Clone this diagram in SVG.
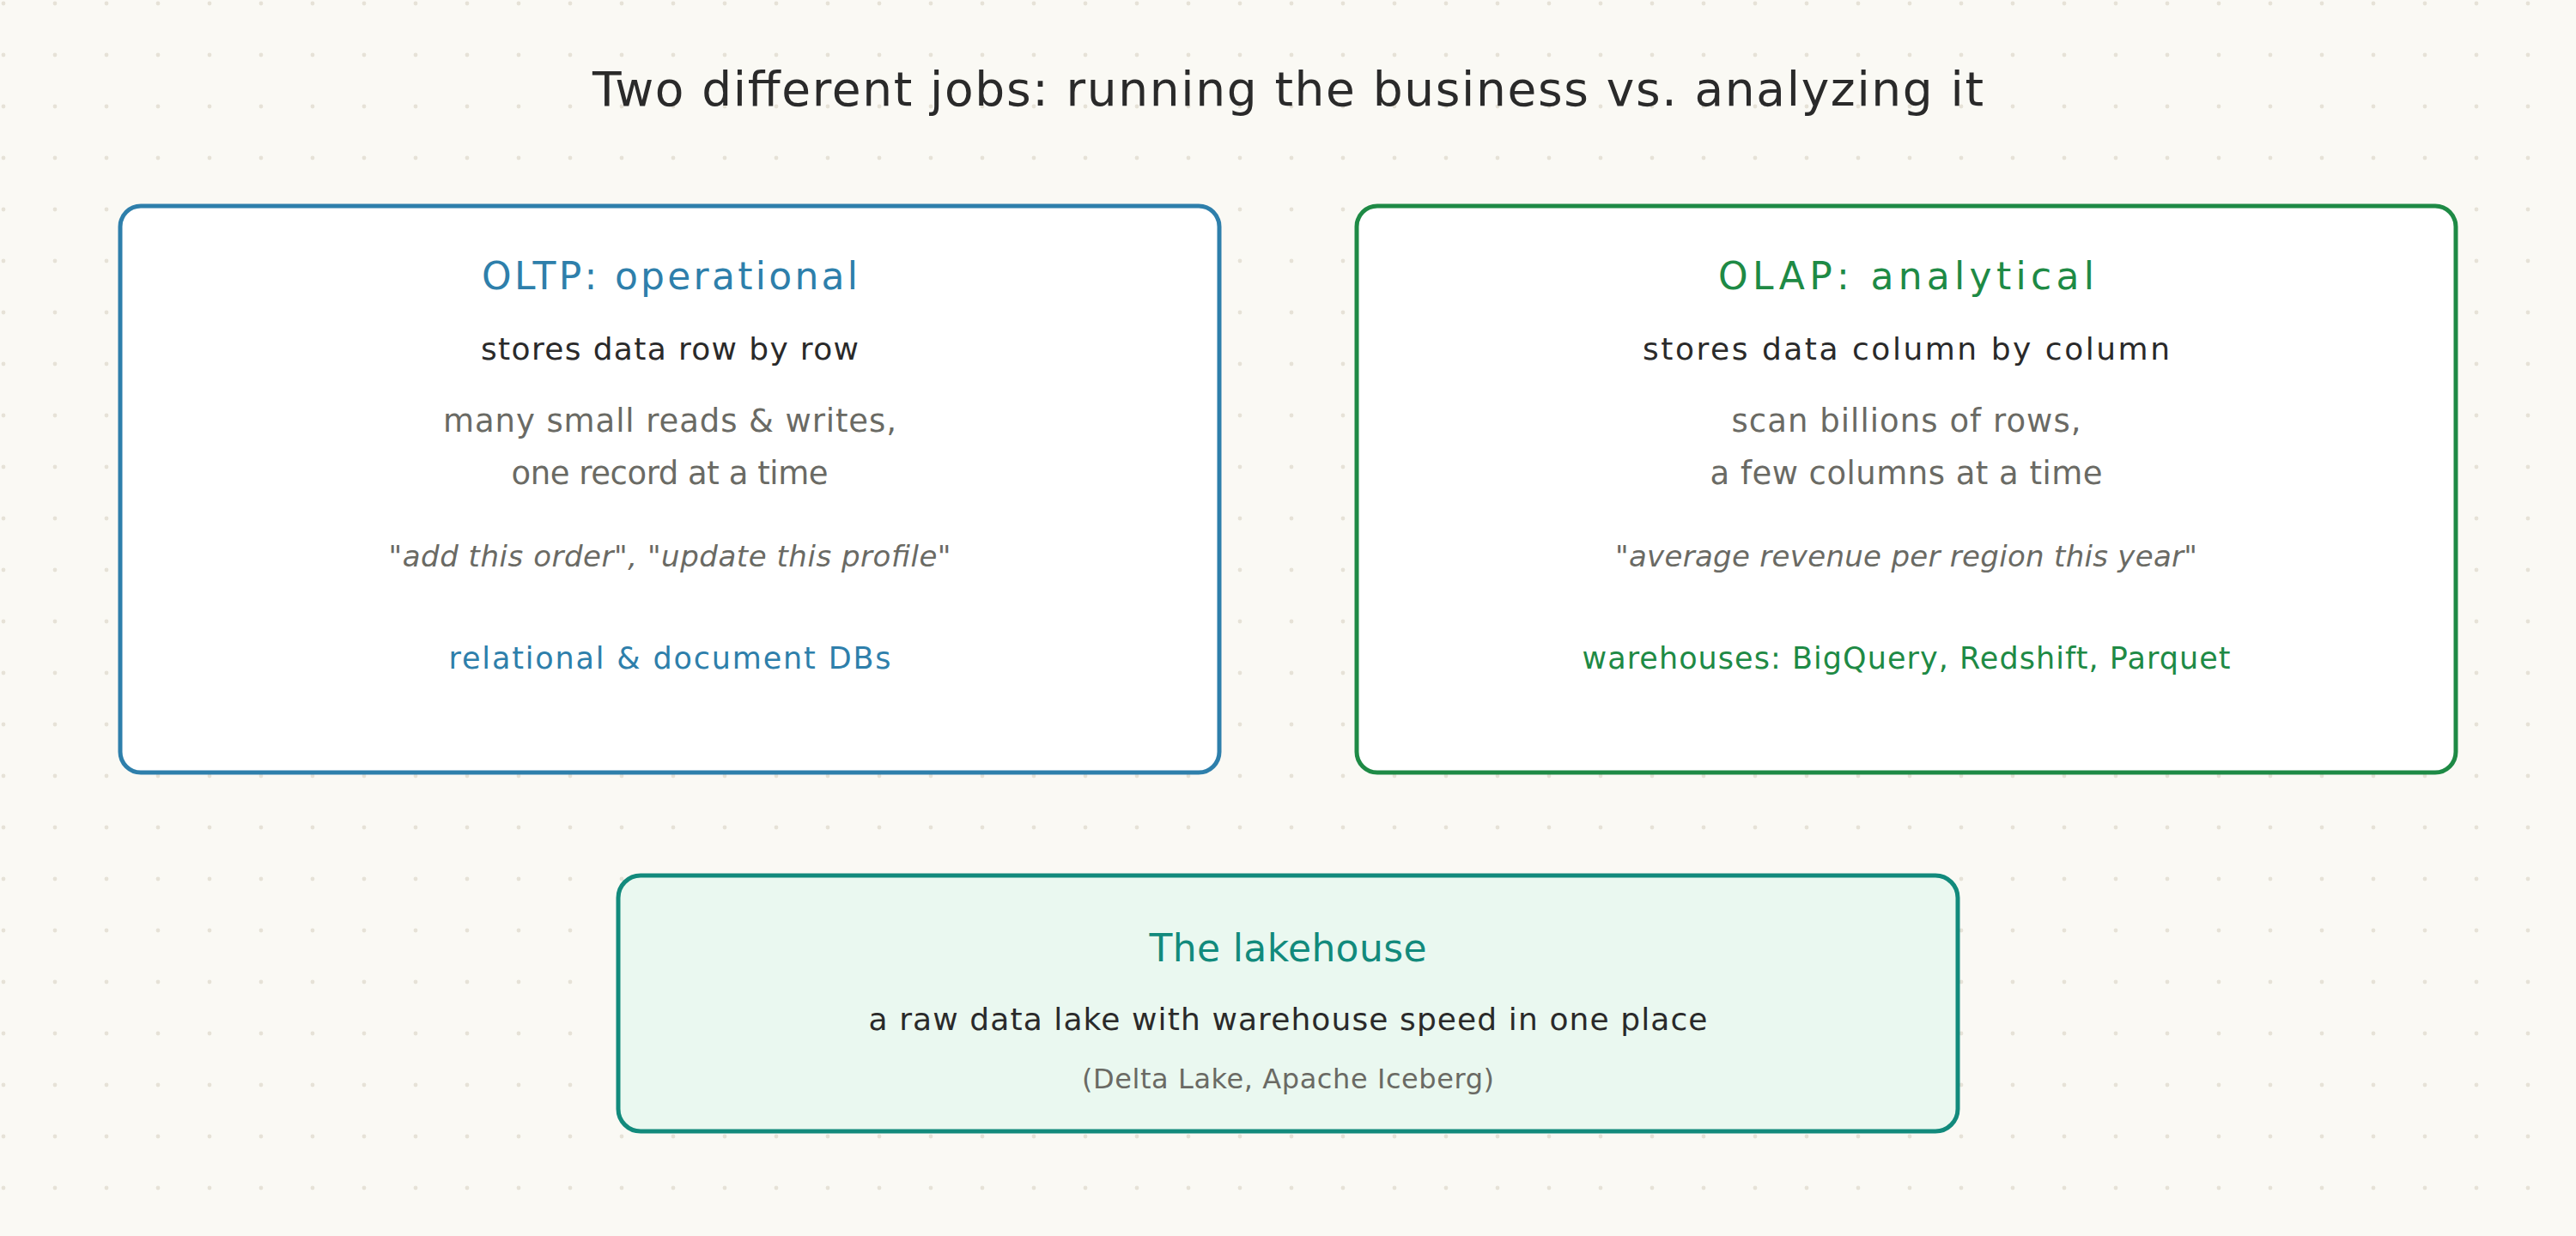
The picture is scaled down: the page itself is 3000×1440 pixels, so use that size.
<svg xmlns="http://www.w3.org/2000/svg" width="3000" height="1440" viewBox="0 0 3000 1440">
<defs>
<pattern id="dots" x="0" y="0" width="60" height="60" patternUnits="userSpaceOnUse">
<circle cx="4" cy="4" r="2.4" fill="#e6e2d7"/>
</pattern>
</defs>
<style>
text{font-family:"DejaVu Sans","Liberation Sans",sans-serif;text-anchor:middle}
.title{font-size:55px;fill:#2a2a2a}
.head{font-size:44px}
.main{font-size:36px;fill:#2a2a2a}
.sub{font-size:37px;fill:#6a6a64}
.quote{font-size:34px;fill:#6a6a64;font-style:italic}
.tech{font-size:35px}
.note{font-size:32px;fill:#6a6a64}
.blue{fill:#2e7fab}
.green{fill:#1e8a45}
.teal{fill:#128a7c}
.box{stroke-width:5}
</style>
<rect width="3000" height="1440" fill="#faf9f4"/>
<rect width="3000" height="1440" fill="url(#dots)"/>
<text class="title" x="1500" y="123" textLength="1620">Two different jobs: running the business vs. analyzing it</text>
<g id="oltp">
<rect class="box" x="140" y="240" width="1280" height="660" rx="24" fill="#ffffff" stroke="#2e7fab"/>
<text class="head blue" x="780" y="337" textLength="438">OLTP: operational</text>
<text class="main" x="780" y="419" textLength="440">stores data row by row</text>
<text class="sub" x="780" y="503" textLength="528">many small reads &amp; writes,</text>
<text class="sub" x="780" y="564" textLength="369">one record at a time</text>
<text class="quote" x="780" y="660" textLength="655">"add this order", "update this profile"</text>
<text class="tech blue" x="780" y="779" textLength="515">relational &amp; document DBs</text>
</g>
<g id="olap">
<rect class="box" x="1580" y="240" width="1280" height="660" rx="24" fill="#ffffff" stroke="#1e8a45"/>
<text class="head green" x="2220" y="337" textLength="438">OLAP: analytical</text>
<text class="main" x="2220" y="419" textLength="614">stores data column by column</text>
<text class="sub" x="2220" y="503" textLength="407">scan billions of rows,</text>
<text class="sub" x="2220" y="564" textLength="457">a few columns at a time</text>
<text class="quote" x="2220" y="660" textLength="678">"average revenue per region this year"</text>
<text class="tech green" x="2220" y="779" textLength="755">warehouses: BigQuery, Redshift, Parquet</text>
</g>
<g id="lakehouse">
<rect class="box" x="720" y="1020" width="1560" height="298" rx="26" fill="#eaf8f0" stroke="#128a7c"/>
<text class="head teal" x="1500" y="1120" textLength="323">The lakehouse</text>
<text class="main" x="1500" y="1200" textLength="977">a raw data lake with warehouse speed in one place</text>
<text class="note" x="1500" y="1268" textLength="480">(Delta Lake, Apache Iceberg)</text>
</g>
<g id="connectors"/>
</svg>
